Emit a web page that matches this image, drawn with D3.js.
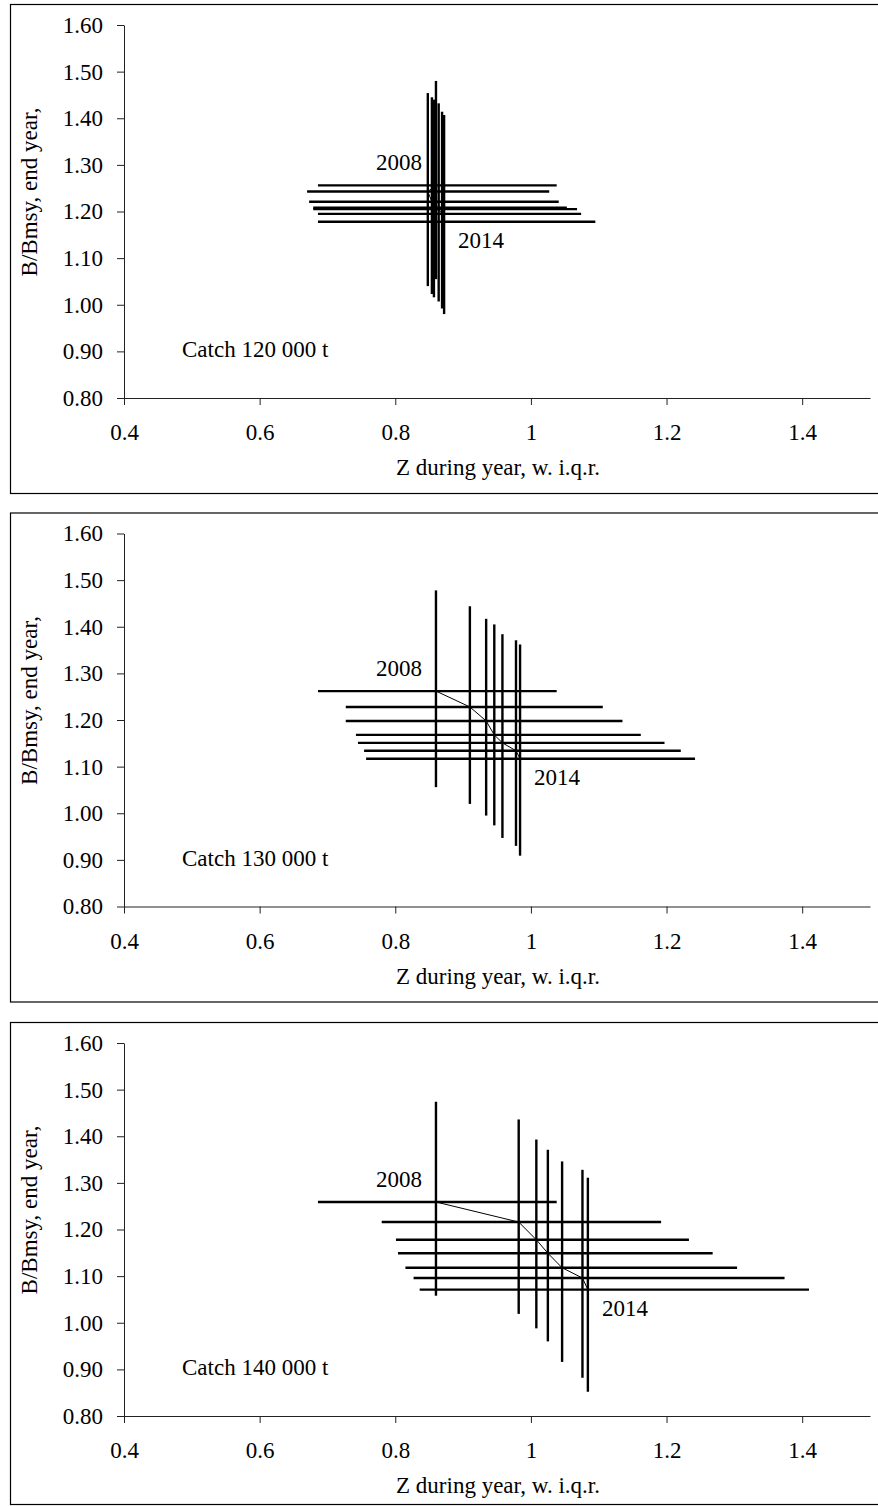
<!DOCTYPE html>
<html>
<head>
<meta charset="utf-8">
<script src="https://cdnjs.cloudflare.com/ajax/libs/d3/7.8.5/d3.min.js"></script>
<style>
	body { margin: 0; background: #fff; }
	text { font-family: "Liberation Serif", "Times New Roman", serif; fill: #000; }
</style>
</head>
<body>
<div id="svg-container"></div>
<script>

// years plotted on every panel
var years = [2008, 2009, 2010, 2011, 2012, 2013, 2014];

var catchLabels = ['Catch 120 000 t', 'Catch 130 000 t', 'Catch 140 000 t'];

// catch 120 000 t : Z median and i.q.r., B/Bmsy median and i.q.r.
var zMid120 = [0.860, 0.848, 0.854, 0.857, 0.864, 0.869, 0.872];
var zLow120 = [0.686, 0.670, 0.673, 0.679, 0.679, 0.686, 0.686];
var zHigh120 = [1.038, 1.027, 1.041, 1.053, 1.068, 1.074, 1.095];
var bMid120 = [1.256, 1.243, 1.221, 1.208, 1.205, 1.195, 1.178];
var bLow120 = [1.055, 1.040, 1.023, 1.016, 1.007, 0.992, 0.980];
var bHigh120 = [1.480, 1.454, 1.445, 1.440, 1.432, 1.414, 1.407];

// catch 130 000 t
var zMid130 = [0.860, 0.910, 0.934, 0.946, 0.958, 0.978, 0.984];
var zLow130 = [0.686, 0.727, 0.727, 0.742, 0.745, 0.754, 0.757];
var zHigh130 = [1.038, 1.106, 1.135, 1.162, 1.197, 1.221, 1.242];
var bMid130 = [1.262, 1.228, 1.198, 1.168, 1.151, 1.134, 1.117];
var bLow130 = [1.056, 1.020, 0.995, 0.974, 0.947, 0.930, 0.909];
var bHigh130 = [1.478, 1.444, 1.417, 1.405, 1.384, 1.371, 1.362];

// catch 140 000 t
var zMid140 = [0.860, 0.982, 1.008, 1.025, 1.046, 1.076, 1.084];
var zLow140 = [0.686, 0.780, 0.801, 0.804, 0.815, 0.827, 0.836];
var zHigh140 = [1.038, 1.192, 1.233, 1.268, 1.304, 1.374, 1.410];
var bMid140 = [1.259, 1.216, 1.178, 1.149, 1.118, 1.096, 1.071];
var bLow140 = [1.058, 1.019, 0.988, 0.960, 0.916, 0.882, 0.852];
var bHigh140 = [1.474, 1.436, 1.393, 1.371, 1.346, 1.328, 1.311];

var xTicks = [0.4, 0.6, 0.8, 1, 1.2, 1.4];
var yTicks = [0.8, 0.9, 1.0, 1.1, 1.2, 1.3, 1.4, 1.5, 1.6];

var xTitle = 'Z during year, w. i.q.r.';
var yTitle = 'B/Bmsy, end year,';

var pageWidth = 878;
var pageHeight = 1506;
var panelHeight = 489;
var panelTops = [0, 508.5, 1018];
var textSize = 23;

var panels = [
	{ zMid: zMid120, zLow: zLow120, zHigh: zHigh120, bMid: bMid120, bLow: bLow120, bHigh: bHigh120 },
	{ zMid: zMid130, zLow: zLow130, zHigh: zHigh130, bMid: bMid130, bLow: bLow130, bHigh: bHigh130 },
	{ zMid: zMid140, zLow: zLow140, zHigh: zHigh140, bMid: bMid140, bLow: bLow140, bHigh: bHigh140 }
];

var xScale = d3.scaleLinear()
	.domain([0.4, 1.5])
	.range([124, 870]);

var yScale = d3.scaleLinear()
	.domain([0.8, 1.6])
	.range([398, 25]);

var svg = d3.select('#svg-container')
	.append('svg')
	.attr('width', pageWidth)
	.attr('height', pageHeight);

panels.forEach(function(p, i){
	var top = panelTops[i];
	var g = svg.append('g')
		.attr('transform', `translate(0, ${top})`);

	// outer frame (last one is cut by the page)
	var frameHeight = Math.min(panelHeight, pageHeight - 1.5 - top - 4.5);
	g.append('rect')
		.attr('x', 10.5)
		.attr('y', 4.5)
		.attr('width', 870)
		.attr('height', frameHeight)
		.attr('fill', 'none')
		.attr('stroke', '#000')
		.attr('stroke-width', 1.2);

	drawAxes(g);
	drawPanel(g, p, catchLabels[i]);
});

function drawAxes(g) {
	var xAxis = g.append('g')
		.attr('transform', 'translate(0, 398)')
		.call(d3.axisBottom(xScale)
			.tickValues(xTicks)
			.tickSizeInner(7)
			.tickSizeOuter(0)
			.tickPadding(19)
			.tickFormat(function(d){ return String(d) }));

	var yAxis = g.append('g')
		.attr('transform', 'translate(124, 0)')
		.call(d3.axisLeft(yScale)
			.tickValues(yTicks)
			.tickSizeInner(7)
			.tickSizeOuter(0)
			.tickPadding(14)
			.tickFormat(d3.format('.2f')));

	[xAxis, yAxis].forEach(function(a){
		a.selectAll('path, line').attr('stroke', '#222');
		a.selectAll('text')
			.attr('font-size', textSize)
			.attr('font-family', '"Liberation Serif", "Times New Roman", serif')
			.attr('fill', '#000');
	});

	g.append('text')
		.attr('x', 498)
		.attr('y', 475)
		.attr('text-anchor', 'middle')
		.attr('font-size', textSize)
		.text(xTitle);

	g.append('text')
		.attr('transform', 'translate(37, 192) rotate(-90)')
		.attr('text-anchor', 'middle')
		.attr('font-size', textSize)
		.text(yTitle);
}

function drawPanel(g, p, label) {
	var rows = years.map(function(y, k){
		return {
			year: y,
			zMid: p.zMid[k], zLow: p.zLow[k], zHigh: p.zHigh[k],
			bMid: p.bMid[k], bLow: p.bLow[k], bHigh: p.bHigh[k]
		};
	});

	// Z interquartile range
	g.selectAll('.zbar')
		.data(rows)
		.enter().append('line')
			.attr('class', 'zbar')
			.attr('x1', function(d){ return xScale(d.zLow) })
			.attr('x2', function(d){ return xScale(d.zHigh) })
			.attr('y1', function(d){ return yScale(d.bMid) })
			.attr('y2', function(d){ return yScale(d.bMid) })
			.attr('stroke', '#000')
			.attr('stroke-width', 2.4);

	// B/Bmsy interquartile range
	g.selectAll('.bbar')
		.data(rows)
		.enter().append('line')
			.attr('class', 'bbar')
			.attr('x1', function(d){ return xScale(d.zMid) })
			.attr('x2', function(d){ return xScale(d.zMid) })
			.attr('y1', function(d){ return yScale(d.bLow) })
			.attr('y2', function(d){ return yScale(d.bHigh) })
			.attr('stroke', '#000')
			.attr('stroke-width', 2.4);

	// median trajectory
	var track = d3.line()
		.x(function(d){ return xScale(d.zMid) })
		.y(function(d){ return yScale(d.bMid) });

	g.append('path')
		.datum(rows)
		.attr('d', track)
		.attr('fill', 'none')
		.attr('stroke', '#000')
		.attr('stroke-width', 1);

	var first = rows[0];
	var last = rows[rows.length - 1];

	g.append('text')
		.attr('x', xScale(first.zMid) - 14)
		.attr('y', yScale(first.bMid) - 15)
		.attr('text-anchor', 'end')
		.attr('font-size', textSize)
		.text(first.year);

	g.append('text')
		.attr('x', xScale(last.zMid) + 14)
		.attr('y', yScale(last.bMid) + 26)
		.attr('font-size', textSize)
		.text(last.year);

	g.append('text')
		.attr('x', 182)
		.attr('y', 357)
		.attr('font-size', textSize)
		.text(label);
}
</script>
</body>
</html>
